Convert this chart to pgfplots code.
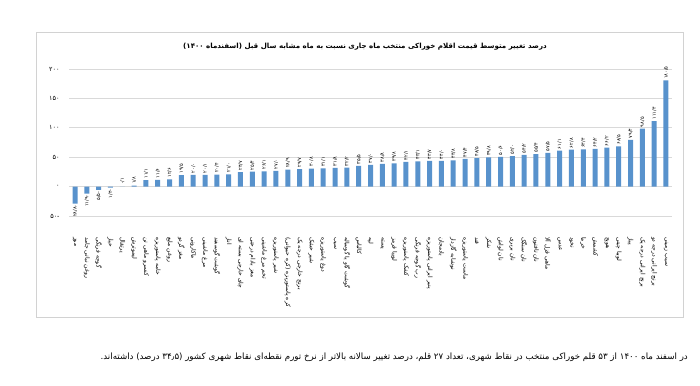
\documentclass[border=0pt]{standalone}
\usepackage{pgfplots}
\pgfplotsset{compat=1.18}
\usepackage{pgfplotstable}
\usepackage{fontspec}
\setmainfont{DejaVu Sans}
\newfontfamily\fa[Script=Arabic]{DejaVu Sans}
\TeXXeTstate=1
\newcommand{\R}[1]{\beginR #1\endR}
\definecolor{barblue}{RGB}{88,146,204}
\definecolor{gridgray}{RGB}{217,217,217}
\definecolor{framegray}{RGB}{210,210,210}

\pgfplotstableread{
x y lab
1 -28.8 -۲۸/۸
2 -11.9 -۱۱/۹
3 -5.5 -۵/۵
4 -1.4 -۱/۴
}\negdata

\pgfplotstableread{
x y lab
5 0.1 ۰/۱
6 1.8 ۱/۸
7 11.1 ۱۱/۱
8 11.6 ۱۱/۶
9 12.6 ۱۲/۶
10 19.5 ۱۹/۵
11 20.0 ۲۰/۰
12 20.1 ۲۰/۱
13 20.4 ۲۰/۴
14 21.0 ۲۱/۰
15 24.7 ۲۴/۷
16 25.4 ۲۵/۴
17 26.1 ۲۶/۱
18 27.0 ۲۷/۰
19 28.9 ۲۸/۹
20 29.7 ۲۹/۷
21 30.8 ۳۰/۸
22 31.1 ۳۱/۱
23 31.8 ۳۱/۸
24 32.2 ۳۲/۲
25 35.5 ۳۵/۵
26 37.0 ۳۷/۰
27 38.8 ۳۸/۸
28 39.8 ۳۹/۸
29 42.1 ۴۲/۱
30 43.1 ۴۳/۱
31 43.7 ۴۳/۷
32 44.0 ۴۴/۰
33 44.8 ۴۴/۸
34 47.4 ۴۷/۴
35 48.5 ۴۸/۵
36 49.8 ۴۹/۸
37 50.6 ۵۰/۶
38 52.0 ۵۲/۰
39 54.2 ۵۴/۲
40 55.4 ۵۵/۴
41 57.5 ۵۷/۵
42 61.1 ۶۱/۱
43 62.8 ۶۲/۸
44 63.4 ۶۳/۴
45 64.2 ۶۴/۲
46 66.2 ۶۶/۲
47 68.5 ۶۸/۵
48 79.4 ۷۹/۴
49 98.5 ۹۸/۵
50 111.4 ۱۱۱/۴
51 180.5 ۱۸۰/۵
}\posdata

\begin{document}
\begin{tikzpicture}
\path[use as bounding box] (0bp,0bp) rectangle (700bp,386bp);
\draw[framegray, line width=0.8bp] (36bp,69bp) rectangle (683bp,354bp);
\node[font=\fa\bfseries\fontsize{7.1}{9}\selectfont, inner sep=0pt] at (365bp,339bp) {\R{درصد تغییر متوسط قیمت اقلام خوراکی منتخب ماه جاری نسبت به ماه مشابه سال قبل (اسفندماه ۱۴۰۰)}};
\node[font=\fa\fontsize{8.7}{10}\selectfont, inner sep=0pt, anchor=east] at (688bp,29bp) {\R{در اسفند ماه ۱۴۰۰ از ۵۳ قلم خوراکی منتخب در نقاط شهری، تعداد ۲۷ قلم، درصد تغییر سالانه بالاتر از نرخ تورم نقطه‌ای نقاط شهری کشور (۳۴٫۵ درصد) داشته‌اند.}};
\begin{axis}[
  at={(69.1bp,169.9bp)}, anchor=south west,
  scale only axis, width=602.8bp, height=147.1bp,
  xmin=0.5, xmax=51.5, ymin=-50, ymax=200,
  axis line style={draw=none}, tick style={draw=none},
  ymajorgrids, grid style={draw=gridgray, line width=0.7bp},
  ytick={-50,0,50,100,150,200},
  yticklabels={-۵۰,۰,۵۰,۱۰۰,۱۵۰,۲۰۰},
  yticklabel style={font=\fa\fontsize{6.5}{8}\selectfont, anchor=east, xshift=-6bp},
  xtick={1,...,51},
  xticklabels={\R{موز},\R{روغن نباتی جامد},\R{گوجه فرنگی},\R{خیار},\R{پرتقال},\R{لیموترش},\R{کنسرو ماهی تن},\R{خامه پاستوریزه},\R{روغن مایع},\R{مغز گردو},\R{ماکارونی},\R{مرغ ماشینی},\R{گوشت گوسفند},\R{انار},\R{چای خارجی بسته ای},\R{مغز بادام درختی},\R{تخم مرغ ماشینی},\R{شیر پاستوریزه},\R{کره پاستوریزه (کره حیوانی)},\R{برنج خارجی درجه یک},\R{شیر خشک},\R{دوغ پاستوریزه},\R{سیب},\R{گوشت گاو یا گوساله},\R{کالباس},\R{لپه},\R{پسته},\R{لوبیا قرمز},\R{کشک پاستوریزه},\R{رب گوجه فرنگی},\R{پنیر ایرانی پاستوریزه},\R{بادمجان},\R{نوشابه گازدار},\R{ماست پاستوریزه},\R{قند},\R{شکر},\R{نان لواش},\R{نان بربری},\R{نان سنگک},\R{نان تافتون},\R{ماهی قزل آلا},\R{عدس},\R{نخود},\R{خرما},\R{کشمش},\R{هویج},\R{لوبیا چیتی},\R{پیاز},\R{برنج ایرانی درجه یک},\R{برنج ایرانی درجه دو},\R{سیب زمینی}},
  xticklabel style={font=\fa\fontsize{6}{7}\selectfont, rotate=-90, anchor=west, xshift=16bp, inner sep=0.5bp},
  ybar, bar width=5bp, bar shift=0pt,
  point meta=explicit symbolic,
  nodes near coords,
]
\addplot[fill=barblue, draw=none,
  nodes near coords style={font=\fa\fontsize{5}{6}\selectfont, rotate=90, anchor=east, inner sep=1.5bp}]
  table[x=x, y=y, meta=lab] {\negdata};
\addplot[fill=barblue, draw=none,
  nodes near coords style={font=\fa\fontsize{5}{6}\selectfont, rotate=90, anchor=west, inner sep=1.5bp}]
  table[x=x, y=y, meta=lab] {\posdata};
\end{axis}
\end{tikzpicture}
\end{document}
